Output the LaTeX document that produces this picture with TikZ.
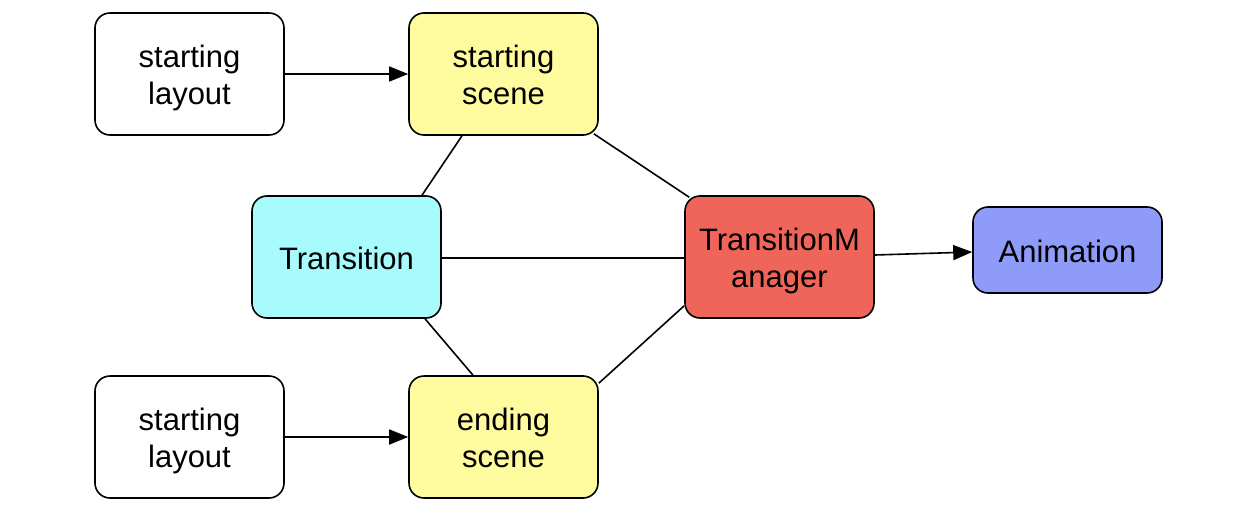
\documentclass[tikz,border=0pt]{standalone}
\usepackage{fontspec}
\setmainfont{Liberation Sans}
\usetikzlibrary{arrows.meta,calc}
\definecolor{yel}{HTML}{FFFB9E}
\definecolor{cya}{HTML}{A8FBFC}
\definecolor{red1}{HTML}{F06559}
\definecolor{blu}{HTML}{8F9BF8}
\newcommand\lbtxt[1]{\raisebox{-5pt}[\height][\depth]{\begin{tabular}{@{}c@{}}#1\end{tabular}}}
\begin{document}
\begin{tikzpicture}[x=1pt,y=-1pt,
  box/.style={draw=black,line width=1.6pt,rounded corners=15pt,minimum width=189pt,minimum height=122pt,font=\fontsize{31}{37}\selectfont,inner sep=0pt},
  conn/.style={line width=1.6pt},
  arr/.style={line width=1.6pt,-{Triangle[length=19pt,width=15pt]}}]
\useasboundingbox (0,0) rectangle (1244,508);
\node[box,fill=white] (L1) at (189.5,74) {\lbtxt{starting\\layout}};
\node[box,fill=yel] (S1) at (503.5,74) {\lbtxt{starting\\scene}};
\node[box,fill=cya] (T) at (346.5,257) {\lbtxt{Transition}};
\node[box,fill=red1] (M) at (779.5,257) {\lbtxt{TransitionM\\anager}};
\node[box,fill=blu,minimum height=86pt] (A) at (1067.5,250) {\lbtxt{Animation}};
\node[box,fill=white] (L2) at (189.5,437) {\lbtxt{starting\\layout}};
\node[box,fill=yel] (S2) at (503.5,437) {\lbtxt{ending\\scene}};
\draw[arr] (L1.east) -- (S1.west);
\draw[arr] (L2.east) -- (S2.west);
\draw[conn] ($(S1.south)+(-41.5,0)$) -- ($(T.north)+(75.5,0)$);
\draw[conn] ($(S1.south east)+(-5,-2)$) -- ($(M.north west)+(5,2)$);
\draw[conn] ($(T.east)+(0,1)$) -- ($(M.west)+(0,1)$);
\draw[conn] ($(T.south)+(78.5,0)$) -- ($(S2.north)+(-30.5,0)$);
\draw[conn] ($(S2.north east)+(0,8)$) -- ($(M.south west)+(0,-13)$);
\draw[arr] ($(M.east)+(0,-2)$) -- ($(A.west)+(0,2)$);
\end{tikzpicture}
\end{document}
